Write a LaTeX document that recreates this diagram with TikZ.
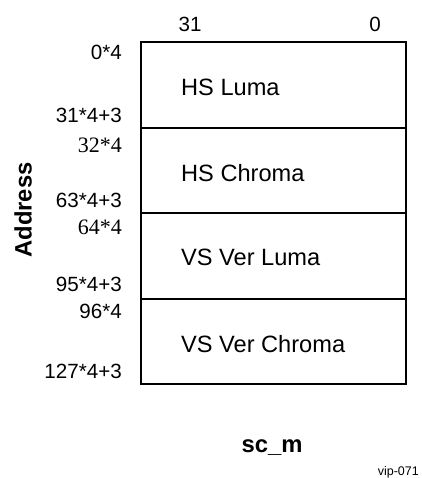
\documentclass[tikz,border=0pt]{standalone}
\usepackage{fontspec}
\setmainfont{Liberation Sans}
\newfontfamily\serifnum{Liberation Serif}
\begin{document}
\begin{tikzpicture}[x=1bp,y=-1bp,
  cell/.style={draw,line width=1.8bp,minimum width=265bp,minimum height=85.5bp,inner sep=0pt,anchor=north west},
  intext/.style={font=\fontsize{23.6bp}{27bp}\selectfont,inner sep=0pt,anchor=west},
  addr/.style={font=\fontsize{20.6bp}{24bp}\selectfont,inner sep=0pt,anchor=east},
  saddr/.style={font=\fontsize{22bp}{25bp}\serifnum,inner sep=0pt,anchor=east},
  bit/.style={font=\fontsize{20.6bp}{24bp}\selectfont,inner sep=0pt},
  bold/.style={font=\fontsize{23.8bp}{27bp}\bfseries,inner sep=0pt}]
\useasboundingbox (0,0) rectangle (421,478);
\clip (0,0) rectangle (421,478);
\node[cell] (r1) at (140,41.3) {};
\node[cell] (r2) at (140,126.8) {};
\node[cell] (r3) at (140,212.3) {};
\node[cell] (r4) at (140,297.8) {};
\node[intext] (t1) at (181,87.5) {HS Luma};
\node[intext] (t2) at (181,173.3) {HS Chroma};
\node[intext] (t3) at (181,257.5) {VS Ver Luma};
\node[intext] (t4) at (181,344) {VS Ver Chroma};
\node[bit] (b31) at (190,24) {31};
\node[bit] (b0) at (375,24) {0};
\node[addr] (a1) at (122,52) {0*4};
\node[addr] (a2) at (122,115) {31*4+3};
\node[saddr] (a3) at (122,145) {32*4};
\node[addr] (a4) at (122,200.7) {63*4+3};
\node[saddr] (a5) at (122,227.3) {64*4};
\node[addr] (a6) at (122,284) {95*4+3};
\node[addr] (a7) at (122,311.7) {96*4};
\node[addr] (a8) at (122,371.7) {127*4+3};
\node[bold,rotate=90] (ad) at (23,210) {Address};
\node[bold,anchor=base] (sc) at (272,452) {sc\_m};
\node[font=\fontsize{12.5bp}{15bp}\selectfont,inner sep=0pt,anchor=base east] (vip) at (419,475) {vip-071};
\end{tikzpicture}
\end{document}
